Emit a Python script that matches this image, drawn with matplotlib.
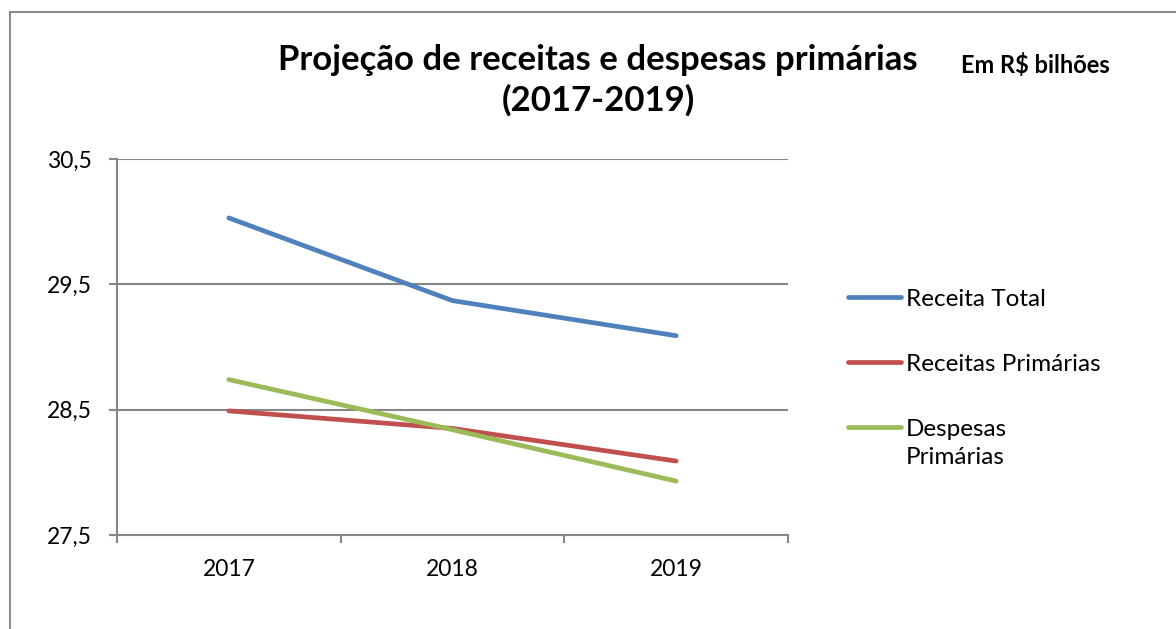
import matplotlib
import matplotlib.pyplot as plt
from matplotlib.lines import Line2D
from matplotlib.patches import Rectangle

matplotlib.use('agg', force=True)

anos = ["2017", "2018", "2019"]
receita_total = [30.03, 29.37, 29.09]
receitas_primarias = [28.49, 28.35, 28.09]
despesas_primarias = [28.74, 28.34, 27.93]

series = ["Receita Total", "Receitas Primárias", "Despesas\nPrimárias"]
valores = [receita_total, receitas_primarias, despesas_primarias]
cores = ["#4F81BD", "#C0504D", "#9BBB59"]

plt.rcParams['font.family'] = ['Lato', 'DejaVu Sans']
cinza = "#868686"

fig = plt.figure(figsize=(11.76, 6.29), dpi=100)
fig.add_artist(Rectangle((10 / 1176, -0.1), 1.2, 1.1 - 12 / 629, transform=fig.transFigure,
                         fill=False, edgecolor="#8C8C8C", linewidth=1.5))

ax = fig.add_axes([117 / 1176, 1 - 535 / 629, (788 - 117) / 1176, (535 - 159) / 629])

x = range(len(anos))
for nome, vals, cor in zip(series, valores, cores):
    ax.plot(x, vals, color=cor, linewidth=3.4, solid_capstyle="round", label=nome)

ax.set_xlim(-0.5, len(anos) - 0.5)
ax.set_ylim(27.5, 30.5)
ax.set_yticks([27.5, 28.5, 29.5, 30.5])
ax.set_yticklabels(["27,5", "28,5", "29,5", "30,5"])
ax.set_xticks(x)
ax.set_xticklabels(anos)
ax.set_xticks([-0.5, 0.5, 1.5, 2.5], minor=True)
ax.tick_params(axis="x", which="major", length=0, pad=17, labelsize=16.5)
ax.tick_params(axis="x", which="minor", length=6, width=1.5, color=cinza, direction="out")
ax.tick_params(axis="y", length=6, width=1.5, color=cinza, pad=12, labelsize=16.5)
ax.yaxis.grid(True, color=cinza, linewidth=1.5)
ax.set_axisbelow(True)
for s in ["top", "right"]:
    ax.spines[s].set_visible(False)
for s in ["left", "bottom"]:
    ax.spines[s].set_color(cinza)
    ax.spines[s].set_linewidth(1.5)

fig.text(598 / 1176, 1 - 80 / 629, "Projeção de receitas e despesas primárias\n(2017-2019)",
         ha="center", va="center", fontsize=25, fontweight="bold", linespacing=1.3)
fig.text(1035 / 1176, 1 - 65 / 629, "Em R$ bilhões", ha="center", va="center",
         fontsize=17, fontweight="bold")

# legenda manual, a linha fica alinhada com a primeira linha do texto
leg_y = [297, 362, 427]
for nome, cor, y in zip(series, cores, leg_y):
    fy = 1 - y / 629
    fig.add_artist(Line2D([848 / 1176, 901 / 1176], [fy, fy], transform=fig.transFigure,
                          color=cor, linewidth=3.4, solid_capstyle="round"))
    fig.text(906 / 1176, fy + 0.013, nome, ha="left", va="top", fontsize=17.5, linespacing=1.45)

fig.savefig("out.png", dpi=100)
